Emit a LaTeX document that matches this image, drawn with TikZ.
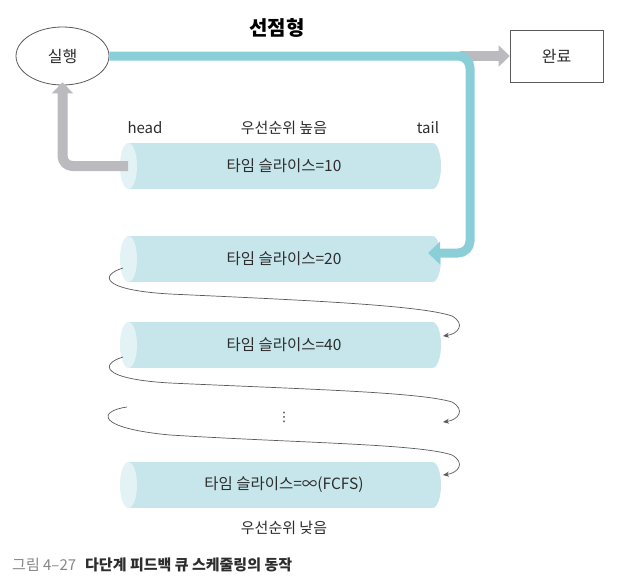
\documentclass[tikz,border=0pt]{standalone}
\usepackage{fontspec}
\setmainfont{Noto Sans CJK KR}
\newfontfamily\dejavu{DejaVu Sans}
\usetikzlibrary{arrows.meta,shapes.geometric}
\definecolor{tealline}{RGB}{138,207,216}
\definecolor{qbody}{RGB}{198,230,235}
\definecolor{qcap}{RGB}{226,242,245}
\definecolor{garrow}{RGB}{187,187,191}
\definecolor{edgec}{RGB}{90,90,90}
\definecolor{txt}{RGB}{45,45,45}
\definecolor{capgray}{RGB}{135,135,135}
\newcommand\mlqueue[3]{%
  \fill[qbody] (128.5,#2-23) rectangle (432.5,#2+23);
  \fill[qbody] (432.5,#2) ellipse[x radius=8.5,y radius=23];
  \fill[qcap] (128.5,#2) ellipse[x radius=8.5,y radius=23];
  \coordinate (#1w) at (120,#2);
  \coordinate (#1e) at (441,#2);
  \node[qtext] (#1) at (284,#2) {#3};
}
\begin{document}
\begin{tikzpicture}[x=1pt,y=-1pt,
  qtext/.style={font=\fontsize{15.5}{18}\selectfont,text=txt,inner sep=0pt},
  lbl/.style={font=\fontsize{15}{18}\selectfont,text=txt,inner sep=0pt},
  grayarrow/.style={draw=garrow,line width=10pt,rounded corners=10pt,-{Triangle[width=21pt,length=11pt]}},
  tealarrow/.style={draw=tealline,line width=9pt,rounded corners=12pt,-{Triangle[width=22pt,length=12pt]}},
  flow/.style={draw=edgec,line width=0.7pt,-{Stealth[length=6pt,width=5pt]}}]
\useasboundingbox[fill=white] (0,0) rectangle (620,582);

% title
\node[font=\fontsize{20}{24}\selectfont\bfseries,inner sep=0pt] (title) at (277,28) {선점형};

% run / done
\node[draw=edgec,line width=0.8pt,ellipse,minimum width=93pt,minimum height=58pt,inner sep=0pt,
      font=\fontsize{16}{19}\selectfont,text=txt] (run) at (62.5,56) {실행};
\node[draw=edgec,line width=0.8pt,minimum width=93pt,minimum height=52pt,inner sep=0pt,
      font=\fontsize{16}{19}\selectfont,text=txt] (done) at (556.5,56) {완료};

% labels
\node[lbl] (head) at (145,128) {head};
\node[lbl] (hi) at (284,128) {우선순위 높음};
\node[lbl] (tail) at (428,128) {tail};

% queues
\mlqueue{q1}{166}{타임 슬라이스=10}
\mlqueue{q2}{259}{타임 슬라이스=20}
\mlqueue{q3}{345}{타임 슬라이스=40}
\mlqueue{q4}{485}{타임 슬라이스=∞(FCFS)}

\node[font=\fontsize{13}{15}\selectfont\dejavu,text=txt,inner sep=0pt] (dots) at (284,417) {⋮};
\node[lbl] (lo) at (284,528) {우선순위 낮음};

% gray arrows
\coordinate (gstart) at (460,56);
\draw[grayarrow] (gstart) -- (done.west);
\coordinate (headout) at (128,166);
\draw[grayarrow] (headout) -| ([yshift=3pt]run.south);

% teal preemption arrow
\coordinate (tealturn) at (470,56);
\coordinate (q2in) at (428,253);
\draw[tealarrow] (run.east) -- (tealturn) |- (q2in);

% flow curves
\coordinate (a0) at (123,268); \coordinate (a1) at (443,336);
\coordinate (b0) at (123,357); \coordinate (b1) at (443,422);
\coordinate (c0) at (127,407); \coordinate (c1) at (443,475);
\draw[flow] (a0) .. controls (100,275) and (100,290) .. (170,294)
  .. controls (300,300) and (420,305) .. (452,316)
  .. controls (466,324) and (458,334) .. (a1);
\draw[flow] (b0) .. controls (100,364) and (100,379) .. (170,383)
  .. controls (300,389) and (420,392) .. (452,402)
  .. controls (466,410) and (458,420) .. (b1);
\draw[flow] (c0) .. controls (98,411) and (95,428) .. (170,435)
  .. controls (300,443) and (420,444) .. (452,455)
  .. controls (466,463) and (458,473) .. (c1);

% caption
\node[anchor=west,inner sep=0pt,font=\fontsize{15}{18}\selectfont] (cap) at (12,565)
  {\textcolor{capgray}{그림 4–27}\hspace{9pt}{\bfseries\color{txt}다단계 피드백 큐 스케줄링의 동작}};
\end{tikzpicture}
\end{document}
